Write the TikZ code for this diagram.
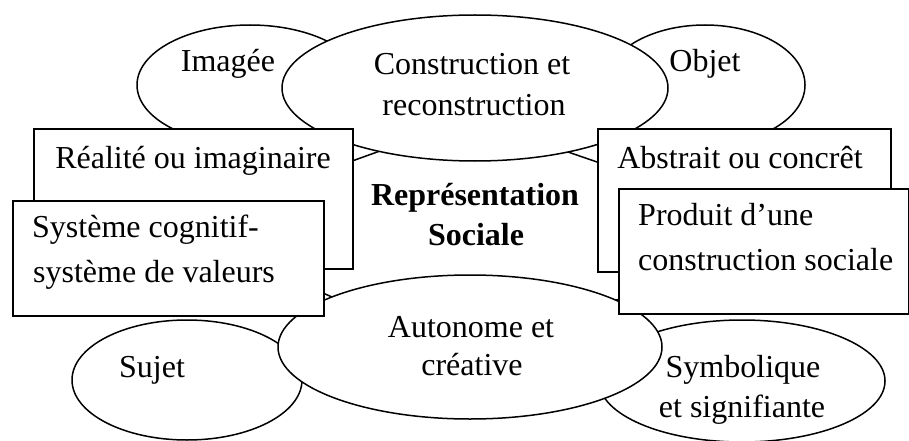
\documentclass[tikz,border=0pt]{standalone}
\usepackage{fontspec}
\setmainfont{Liberation Serif}
\usetikzlibrary{shapes.geometric}
\begin{document}
\begin{tikzpicture}[x=1pt,y=-1pt,
  bubble/.style={ellipse, draw=black, line width=1.5pt, fill=white, inner sep=0pt},
  card/.style={rectangle, draw=black, line width=1.5pt, fill=white, inner sep=0pt, anchor=north west},
  txt/.style={anchor=base, inner sep=0pt, font=\fontsize{32}{40}\selectfont},
  ltxt/.style={txt, anchor=base west},
  btxt/.style={txt, font=\fontsize{32}{40}\selectfont\bfseries}]
\useasboundingbox (0,0) rectangle (909,441);

% central frame, mostly hidden behind the surrounding shapes
\coordinate (c1) at (380,151);
\coordinate (c2) at (568,152);
\coordinate (c3) at (777,224);
\coordinate (c4) at (617,300);
\coordinate (c5) at (332,297);
\coordinate (c6) at (171,226);
\draw[line width=1.5pt, line join=miter] (c1) -- (c2) -- (c3) -- (c4) -- (c5) -- (c6) -- cycle;

% upper ovals
\node[bubble, minimum width=226pt, minimum height=120pt] (imagee) at (250,85) {};
\node[bubble, minimum width=200pt, minimum height=120pt] (objet) at (705,85) {};
\node[bubble, minimum width=386pt, minimum height=146pt] (constr) at (475,88) {};

% lower ovals
\node[bubble, minimum width=230pt, minimum height=120pt] (sujet) at (187,380) {};
\node[bubble, minimum width=286pt, minimum height=122pt] (symb) at (742,381) {};
\node[bubble, minimum width=384pt, minimum height=144pt] (auton) at (470,347) {};

% boxes
\node[card, minimum width=319pt, minimum height=140pt] (realite) at (33,128) {};
\node[card, minimum width=293pt, minimum height=143pt] (abstrait) at (597,128) {};
\node[card, minimum width=311pt, minimum height=115pt] (systeme) at (12,200) {};
\node[card, minimum width=290pt, minimum height=125pt] (produit) at (618,188) {};

% labels
\node[txt] (t-imagee) at (228,72) {Imagée};
\node[txt] (t-constr1) at (472,75) {Construction et};
\node[txt] (t-constr2) at (474,115) {reconstruction};
\node[txt] (t-objet) at (705,72) {Objet};
\node[txt] (t-realite) at (193,168) {Réalité ou imaginaire};
\node[txt] (t-abstrait) at (740,168) {Abstrait ou concrêt};
\node[btxt] (t-rep1) at (475,205) {Représentation};
\node[btxt] (t-rep2) at (476,245) {Sociale};
\node[ltxt] (t-sys1) at (32,237) {Système cognitif-};
\node[ltxt] (t-sys2) at (33,282) {système de valeurs};
\node[ltxt] (t-prod1) at (638,225) {Produit d’une};
\node[ltxt] (t-prod2) at (638,270) {construction sociale};
\node[txt] (t-auton1) at (471,337) {Autonome et};
\node[txt] (t-auton2) at (472,375) {créative};
\node[txt] (t-sujet) at (152,377) {Sujet};
\node[txt] (t-symb1) at (743,377) {Symbolique};
\node[txt] (t-symb2) at (742,417) {et signifiante};
\end{tikzpicture}
\end{document}
